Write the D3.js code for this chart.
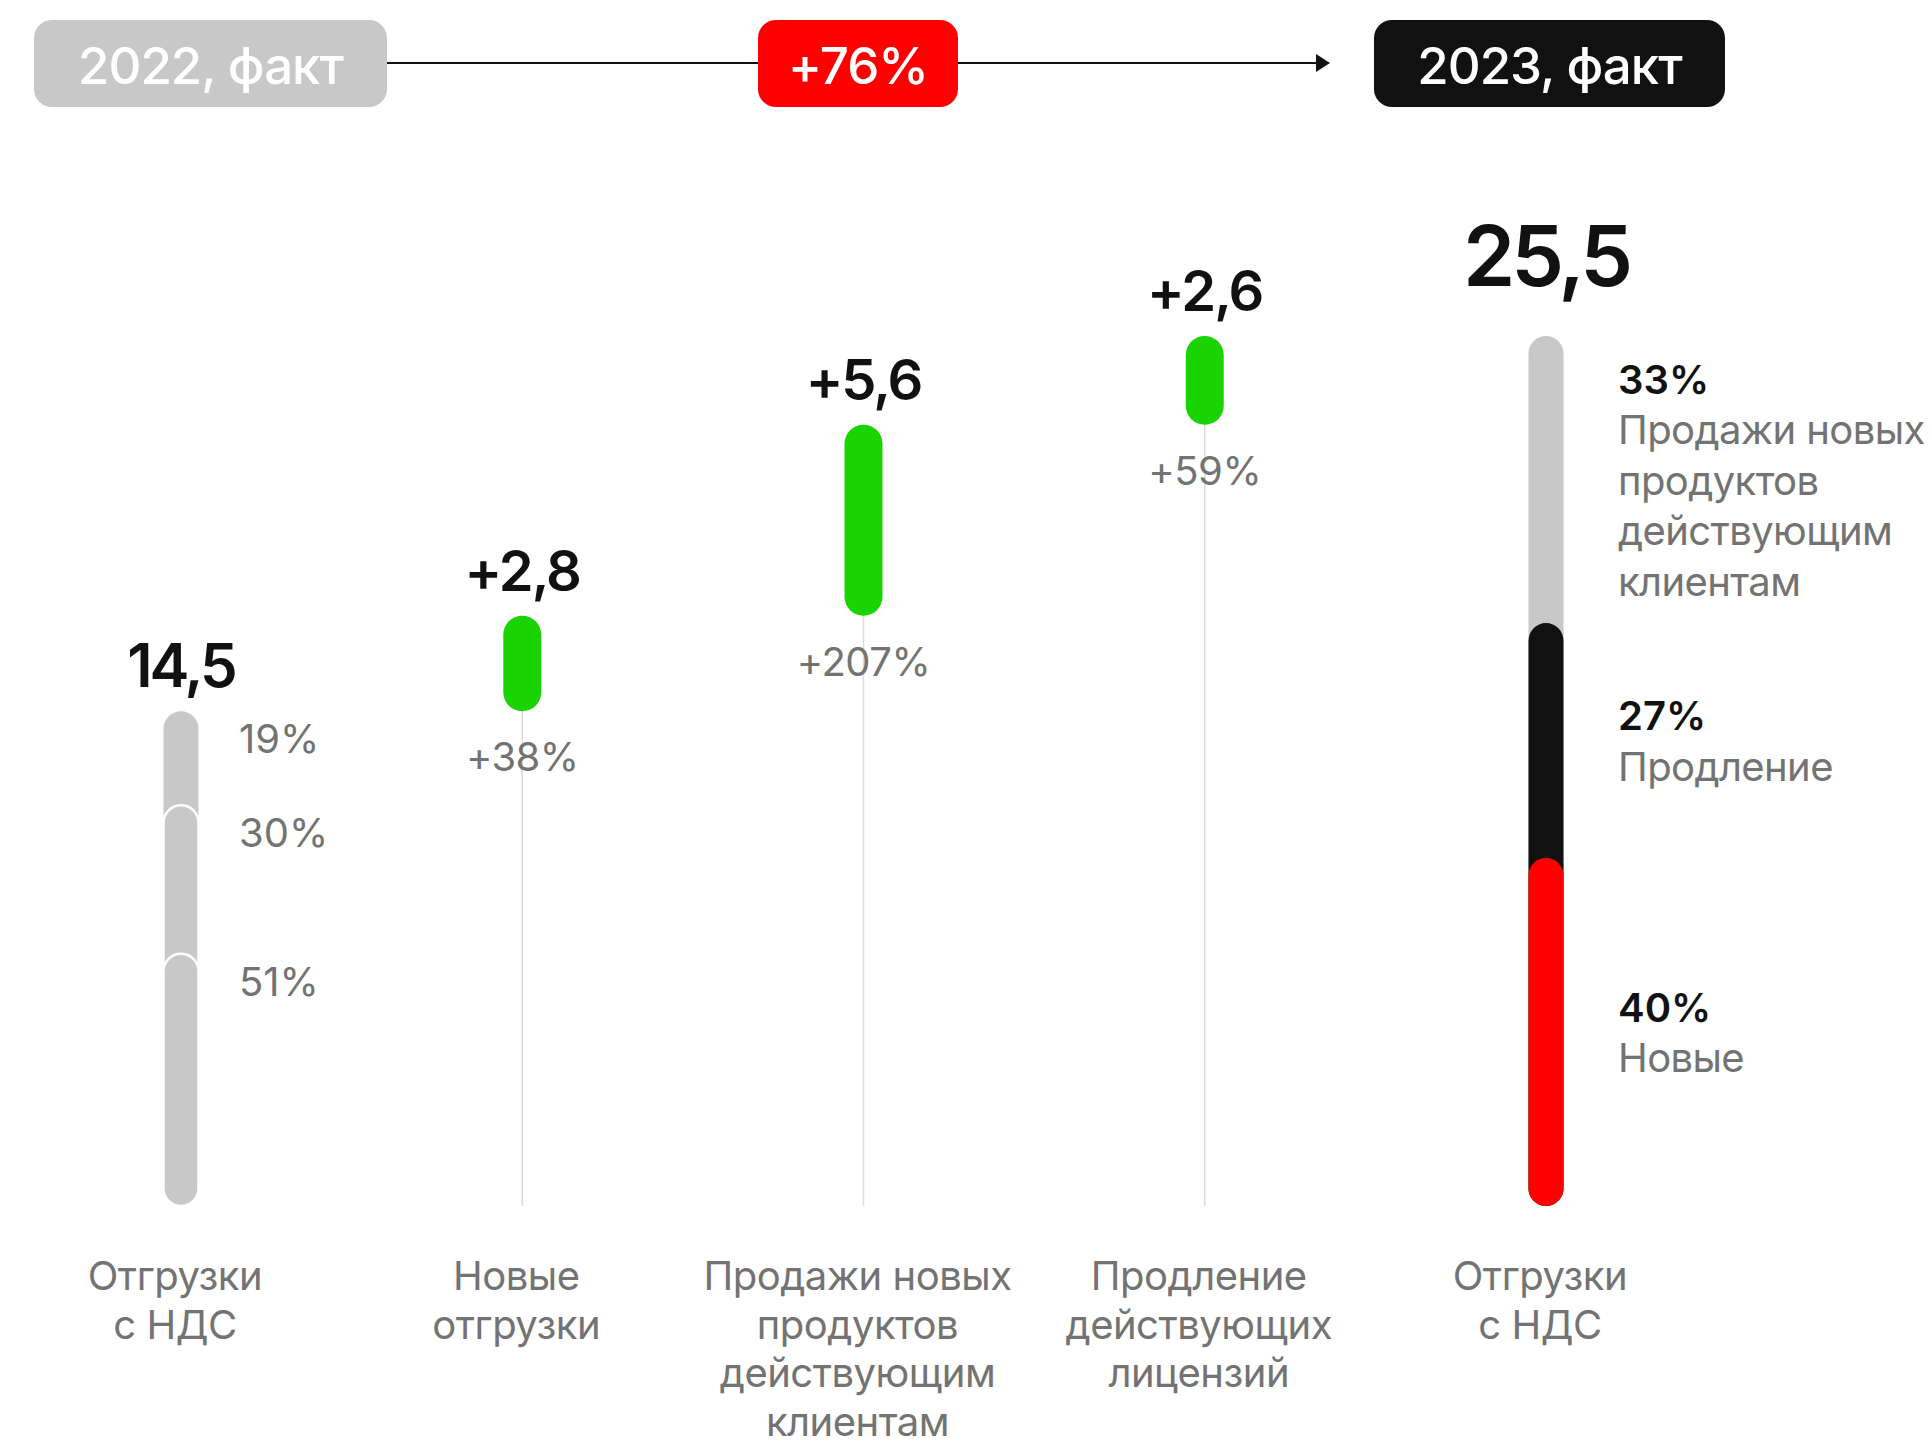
<!DOCTYPE html>
<html>
<head>
<meta charset="utf-8">
<script src="https://cdn.jsdelivr.net/npm/d3@7"></script>
<style>
  body { margin: 0; background: #fff; }
  text { font-family: Inter, "Noto Sans", sans-serif; }
</style>
</head>
<body>
<div id="chart"></div>
<script>
// header labels
var periodLabels = ["2022, факт", "2023, факт"];
var growthLabel = "+76%";

// column captions (one array of lines per column)
var categories = [
    ["Отгрузки", "с НДС"],
    ["Новые", "отгрузки"],
    ["Продажи новых", "продуктов", "действующим", "клиентам"],
    ["Продление", "действующих", "лицензий"],
    ["Отгрузки", "с НДС"]
];

// 2022 total and its structure (bottom to top)
var startValue = 14.5;
var startShares = [51, 30, 19];

// increments and growth rates
var increments = [2.8, 5.6, 2.6];
var incrementPct = ["+38%", "+207%", "+59%"];

// 2023 total and its structure (bottom to top)
var totalValue = 25.5;
var totalShares = [40, 27, 33];
var totalShareNames = [
    ["Новые"],
    ["Продление"],
    ["Продажи новых", "продуктов", "действующим", "клиентам"]
];

var width = 1932, height = 1449;
var grey = "#c8c8c8", textGrey = "#737373", green = "#19d400";

var fmt = d3.formatLocale({decimal: ",", thousands: " ", grouping: [3], currency: ["", ""]}).format(".1f");

var x = d3.scalePoint().domain(d3.range(categories.length)).range([181, 1546]);
var y = d3.scaleLinear().domain([0, totalValue]).range([1206, 336]);

var svg = d3.select("#chart").append("svg")
    .attr("width", width)
    .attr("height", height);

// turn shares into stacked segments (bottom to top)
function stack(shares, total) {
    var acc = 0;
    return shares.map(function(s, i) {
        var lo = acc;
        acc += total * s / 100;
        return {i: i, share: s, lo: lo, hi: acc};
    });
}

// ---- header ----
svg.append("line")
    .attr("x1", 387).attr("x2", 1322)
    .attr("y1", 63).attr("y2", 63)
    .attr("stroke", "#111").attr("stroke-width", 2);
svg.append("path")
    .attr("d", "M1316,54 L1330,63 L1316,72 Z")
    .attr("fill", "#111");

var badges = [
    {x: 34, w: 353, fill: grey, text: periodLabels[0]},
    {x: 758, w: 200, fill: "#ff0000", text: growthLabel},
    {x: 1374, w: 351, fill: "#111111", text: periodLabels[1]}
];
var badge = svg.selectAll(".badge").data(badges).enter().append("g").attr("class", "badge");
badge.append("rect")
    .attr("x", function(d) { return d.x; })
    .attr("y", 20)
    .attr("width", function(d) { return d.w; })
    .attr("height", 87)
    .attr("rx", 18)
    .attr("fill", function(d) { return d.fill; });
badge.append("text")
    .attr("x", function(d) { return d.x + d.w / 2; })
    .attr("y", 84)
    .attr("text-anchor", "middle")
    .attr("fill", "#fff")
    .style("font-size", "51px")
    .style("font-weight", 500)
    .style("letter-spacing", "-1px")
    .text(function(d) { return d.text; });

// ---- 2022 bar ----
var startSegs = stack(startShares, startValue);
var bw = 35;
svg.selectAll(".seg-start")
    .data(startSegs.slice().reverse())
    .enter().append("rect")
    .attr("class", "seg-start")
    .attr("x", x(0) - bw / 2)
    .attr("width", bw)
    .attr("y", function(d) { return y(d.hi); })
    .attr("height", function(d) { return y(0) - y(d.hi); })
    .attr("rx", bw / 2)
    .attr("fill", grey)
    .attr("stroke", function(d, i) { return i === 0 ? "none" : "#fff"; })
    .attr("stroke-width", 2.5);

svg.selectAll(".lbl-start")
    .data(startSegs)
    .enter().append("text")
    .attr("x", x(0) + 58)
    .attr("y", function(d) { return y(d.hi) + 42; })
    .attr("fill", textGrey)
    .style("font-size", "40px")
    .text(function(d) { return d.share + "%"; });

svg.append("text")
    .attr("x", x(0))
    .attr("y", y(startValue) - 24)
    .attr("text-anchor", "middle")
    .attr("fill", "#111")
    .style("font-size", "60px")
    .style("font-weight", 600)
    .style("letter-spacing", "-3px")
    .text(fmt(startValue));

// ---- increments ----
var running = startValue;
var steps = increments.map(function(v, i) {
    var s = {i: i + 1, v: v, lo: running, hi: running + v, pct: incrementPct[i]};
    running += v;
    return s;
});

svg.selectAll(".guide")
    .data(steps)
    .enter().append("line")
    .attr("class", "guide")
    .attr("x1", function(d) { return x(d.i); })
    .attr("x2", function(d) { return x(d.i); })
    .attr("y1", y(0))
    .attr("y2", function(d) { return y(d.hi); })
    .attr("stroke", "#dcdcdc")
    .attr("stroke-width", 1.5);

var gw = 38;
svg.selectAll(".step")
    .data(steps)
    .enter().append("rect")
    .attr("class", "step")
    .attr("x", function(d) { return x(d.i) - gw / 2; })
    .attr("width", gw)
    .attr("y", function(d) { return y(d.hi); })
    .attr("height", function(d) { return y(d.lo) - y(d.hi); })
    .attr("rx", gw / 2)
    .attr("fill", green);

svg.selectAll(".step-val")
    .data(steps)
    .enter().append("text")
    .attr("x", function(d) { return x(d.i); })
    .attr("y", function(d) { return y(d.hi) - 25; })
    .attr("text-anchor", "middle")
    .attr("fill", "#111")
    .style("font-size", "56px")
    .style("font-weight", 600)
    .style("letter-spacing", "-2px")
    .text(function(d) { return "+" + fmt(d.v); });

svg.selectAll(".step-pct")
    .data(steps)
    .enter().append("text")
    .attr("x", function(d) { return x(d.i); })
    .attr("y", function(d) { return y(d.lo) + 60; })
    .attr("text-anchor", "middle")
    .attr("fill", textGrey)
    .style("font-size", "40px")
    .style("letter-spacing", "-0.5px")
    .text(function(d) { return d.pct; });

// ---- 2023 bar ----
var totalSegs = stack(totalShares, totalValue);
var totalColors = ["#ff0000", "#111111", grey];
var tx = x(categories.length - 1);
svg.selectAll(".seg-total")
    .data(totalSegs.slice().reverse())
    .enter().append("rect")
    .attr("class", "seg-total")
    .attr("x", tx - bw / 2)
    .attr("width", bw)
    .attr("y", function(d) { return y(d.hi); })
    .attr("height", function(d) { return y(0) - y(d.hi); })
    .attr("rx", bw / 2)
    .attr("fill", function(d) { return totalColors[d.i]; });

svg.append("text")
    .attr("x", tx)
    .attr("y", y(totalValue) - 50)
    .attr("text-anchor", "middle")
    .attr("fill", "#111")
    .style("font-size", "84px")
    .style("font-weight", 600)
    .style("letter-spacing", "-4px")
    .text(fmt(totalValue));

var lh = 50.5;
totalSegs.forEach(function(d) {
    var lines = totalShareNames[d.i];
    var n = lines.length + 1;
    var mid = (y(d.lo) + y(d.hi)) / 2;
    var b0 = mid - (n - 1) * lh / 2 + 15;
    var g = svg.append("g");
    g.append("text")
        .attr("x", tx + 72)
        .attr("y", b0)
        .attr("fill", "#111")
        .style("font-size", "40px")
        .style("font-weight", 600)
        .text(d.share + "%");
    g.selectAll(".nm")
        .data(lines)
        .enter().append("text")
        .attr("x", tx + 72)
        .attr("y", function(t, j) { return b0 + (j + 1) * lh; })
        .attr("fill", textGrey)
        .style("font-size", "40px")
        .style("letter-spacing", "-0.6px")
        .text(function(t) { return t; });
});

// ---- captions ----
categories.forEach(function(lines, i) {
    svg.selectAll(".cap" + i)
        .data(lines)
        .enter().append("text")
        .attr("x", x(i) - 6)
        .attr("y", function(t, j) { return 1290 + j * 48.5; })
        .attr("text-anchor", "middle")
        .attr("fill", textGrey)
        .style("font-size", "40px")
        .style("letter-spacing", "-0.5px")
        .text(function(t) { return t; });
});
</script>
</body>
</html>
